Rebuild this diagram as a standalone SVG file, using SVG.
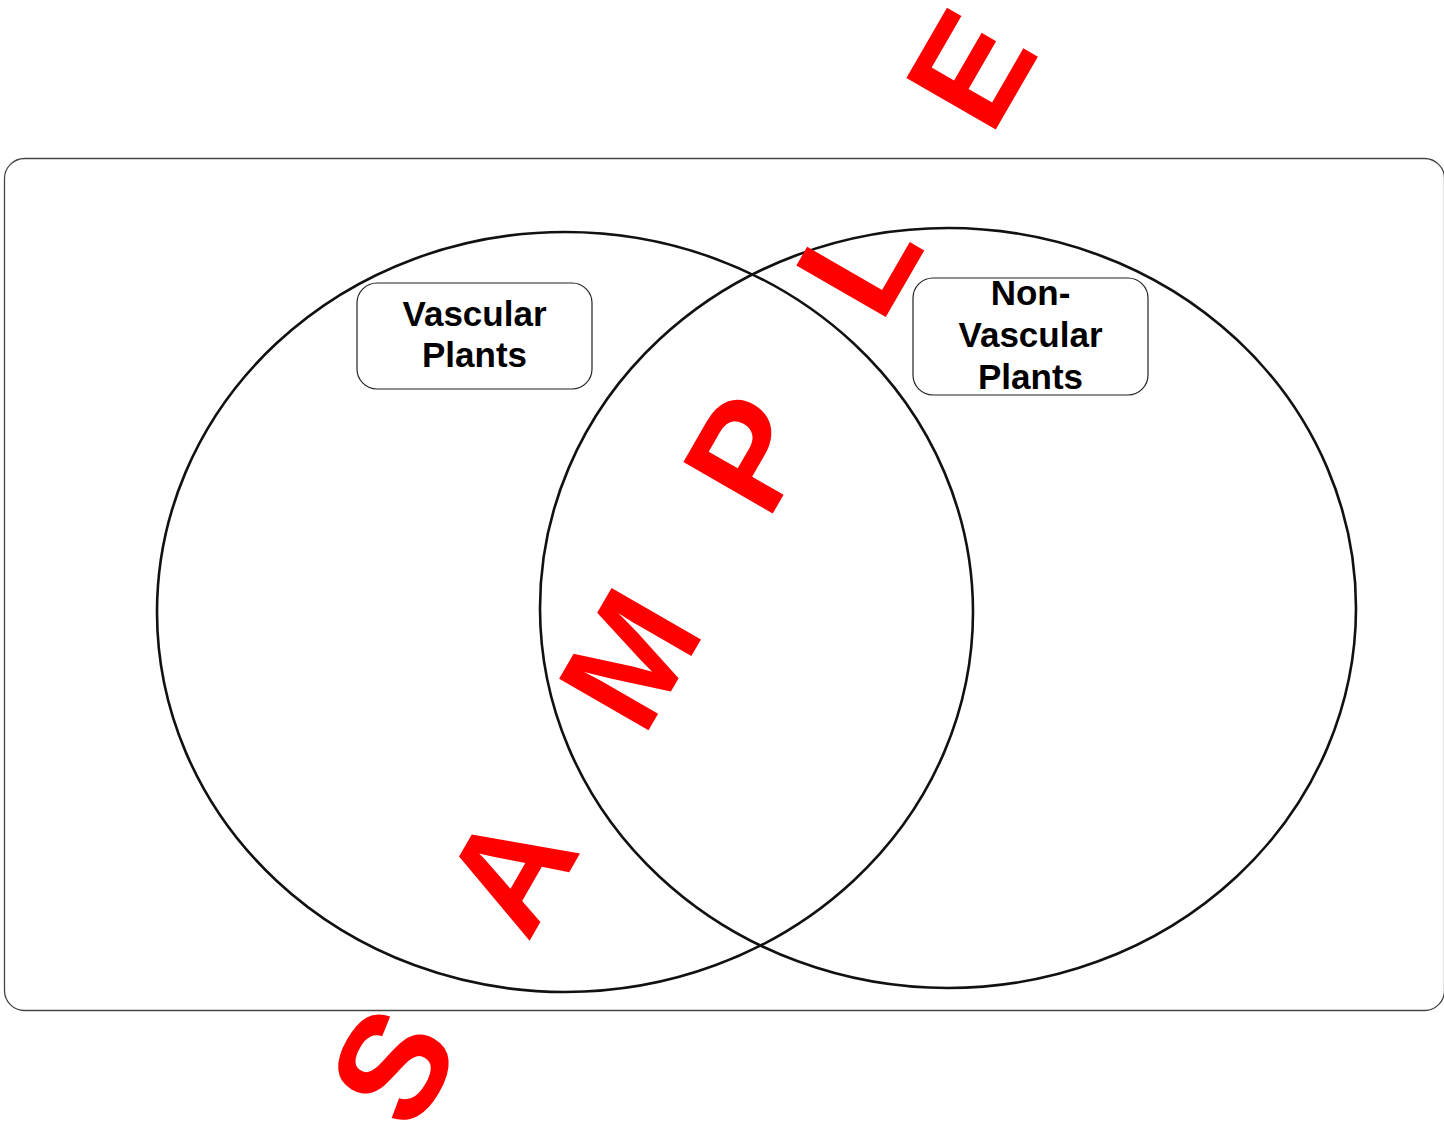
<svg xmlns="http://www.w3.org/2000/svg" width="1444" height="1126" viewBox="0 0 1444 1126">
<style>
.frame{fill:none;stroke:#444;stroke-width:1.3}
.circ{fill:none;stroke:#111;stroke-width:2.6}
.box{fill:#fff;stroke:#222;stroke-width:1.2}
.lbl{font-family:"Liberation Sans",Arial,sans-serif;font-weight:bold;font-size:35px;fill:#000;text-anchor:middle}
.wm{font-family:"Liberation Sans",Arial,sans-serif;font-weight:bold;font-size:150px;fill:#ff0000;text-anchor:middle}
</style>
<rect width="1444" height="1126" fill="#fff"/>
<rect class="frame" x="4.5" y="158.5" width="1440" height="852" rx="20" ry="20"/>
<g id="connectors"></g>
<g id="circle-left"><ellipse class="circ" cx="565" cy="612" rx="408" ry="380"/></g>
<g id="circle-right"><ellipse class="circ" cx="948" cy="608" rx="408" ry="380"/></g>
<g id="label-vascular">
<rect class="box" x="357" y="283" width="235" height="106" rx="20" ry="20"/>
<text class="lbl" x="474.5" y="326">Vascular</text>
<text class="lbl" x="474.5" y="367">Plants</text>
</g>
<g id="label-nonvascular">
<rect class="box" x="913" y="278" width="235" height="117" rx="20" ry="20"/>
<text class="lbl" x="1030.5" y="305">Non-</text>
<text class="lbl" x="1030.5" y="347">Vascular</text>
<text class="lbl" x="1030.5" y="389">Plants</text>
</g>
<g id="watermark">
<text class="wm" transform="translate(391,1065) rotate(-60)" y="54">S</text>
<text class="wm" transform="translate(508,870) rotate(-60)" y="54">A</text>
<text class="wm" transform="translate(628,658) rotate(-60)" y="54">M</text>
<text class="wm" transform="translate(746,452) rotate(-60)" y="54">P</text>
<text class="wm" transform="translate(857,259) rotate(-60)" y="54">L</text>
<text class="wm" transform="translate(969,68) rotate(-60)" y="54">E</text>
</g>
</svg>
